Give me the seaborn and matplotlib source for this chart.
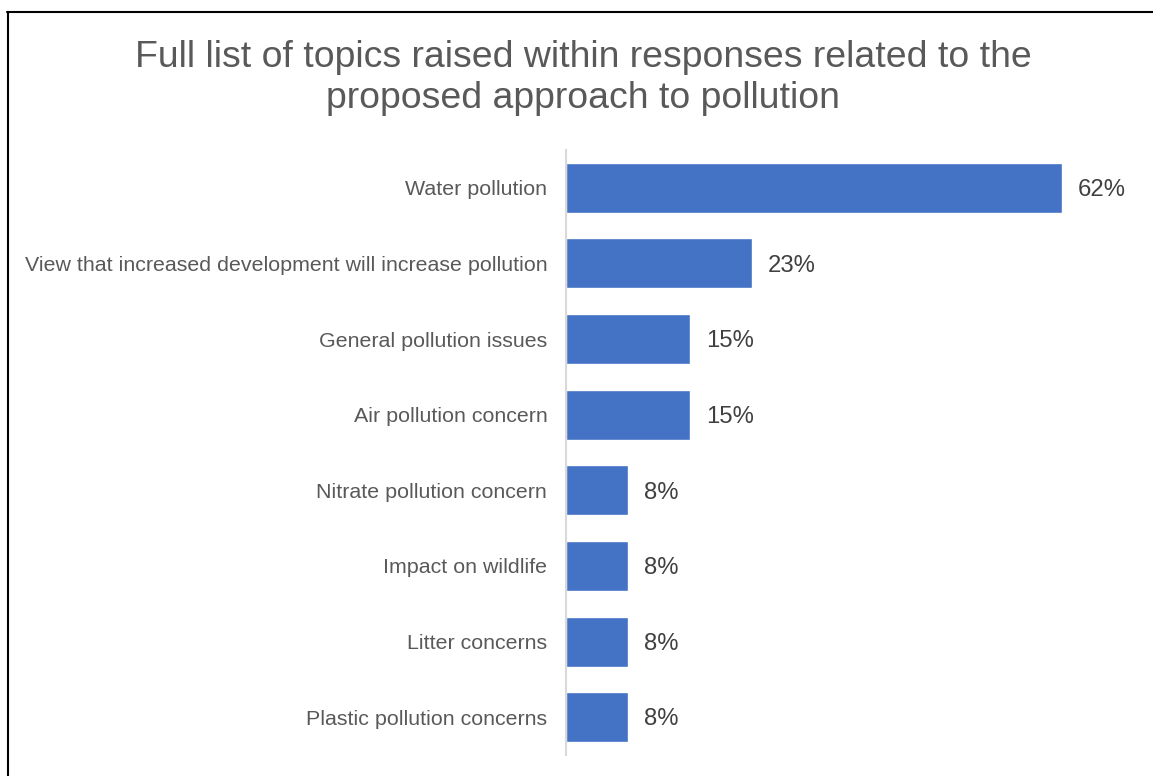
import matplotlib
matplotlib.use("Agg")
import matplotlib.pyplot as plt
import seaborn as sns
import pandas as pd
from matplotlib.lines import Line2D

categories = [
    "Water pollution",
    "View that increased development will increase pollution",
    "General pollution issues",
    "Air pollution concern",
    "Nitrate pollution concern",
    "Impact on wildlife",
    "Litter concerns",
    "Plastic pollution concerns",
]
values = [61.5, 23.1, 15.4, 15.4, 7.7, 7.7, 7.7, 7.7]
value_labels = ["62%", "23%", "15%", "15%", "8%", "8%", "8%", "8%"]
title = "Full list of topics raised within responses related to the\nproposed approach to pollution"

df = pd.DataFrame({"topic": categories, "pct": values})

sns.set_theme(style="white")
plt.rcParams["font.family"] = ["Liberation Sans", "DejaVu Sans"]

W, H = 1153, 776
fig = plt.figure(figsize=(W / 100, H / 100), dpi=100)
ax = fig.add_axes([566 / W, 1 - 755 / H, (1142 - 566) / W, (755 - 150) / H])

sns.barplot(data=df, x="pct", y="topic", color="#4472C4", saturation=1,
            width=0.66, ax=ax, orient="h")
ax.set_xlim(0, 71.4)
ax.set_xlabel("")
ax.set_ylabel("")
ax.set_xticks([])
for s in ["top", "right", "bottom"]:
    ax.spines[s].set_visible(False)
ax.spines["left"].set_color("#d9d9d9")
ax.spines["left"].set_linewidth(1.5)
ax.tick_params(axis="y", length=0, pad=13.5, labelsize=15.4, labelcolor="#595959")

for i, (v, lab) in enumerate(zip(values, value_labels)):
    ax.text(v + 1.95, i + 0.03, lab, va="center", ha="left", fontsize=17.2, color="#404040")

fig.text(583 / W, 1 - 78 / H, title, ha="center", va="center", fontsize=26.9,
         color="#595959", linespacing=1.25)

fig.add_artist(Line2D([7 / W, 1], [1 - 12 / H, 1 - 12 / H], color="black", lw=1.5,
                      transform=fig.transFigure))
fig.add_artist(Line2D([8 / W, 8 / W], [0, 1 - 12 / H], color="black", lw=1.5,
                      transform=fig.transFigure))

fig.savefig("out.png", dpi=100, facecolor="white")
